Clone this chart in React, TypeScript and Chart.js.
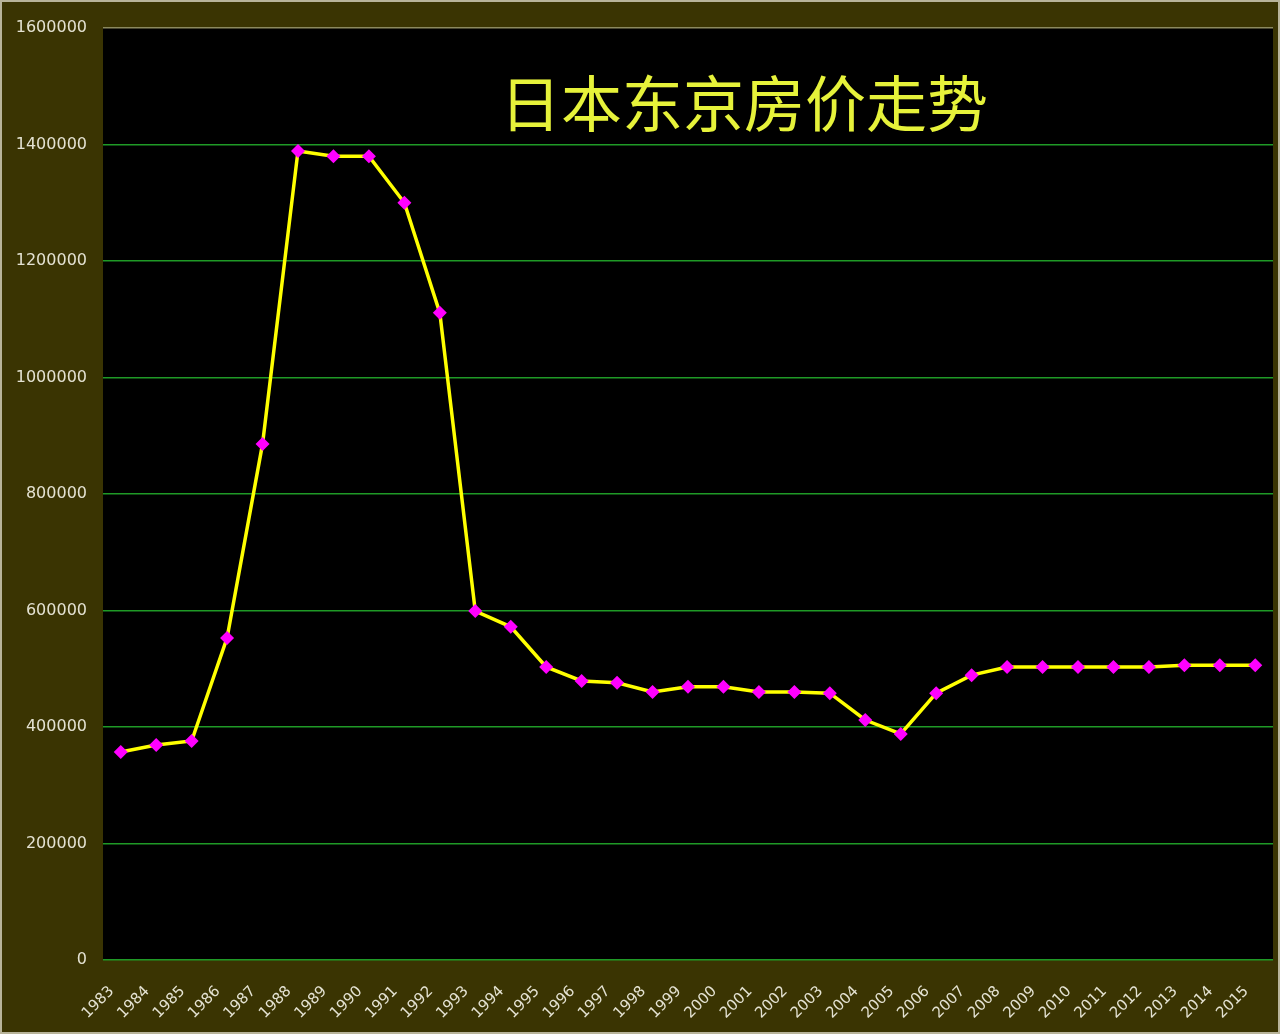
import { useEffect, useRef } from "react"
import { Chart, registerables } from "chart.js"

Chart.register(...registerables)

// ── data ─────────────────────────────────────────────────────
const TITLE = "日本东京房价走势"

const YEARS = [
  "1983", "1984", "1985", "1986", "1987", "1988", "1989", "1990", "1991",
  "1992", "1993", "1994", "1995", "1996", "1997", "1998", "1999", "2000",
  "2001", "2002", "2003", "2004", "2005", "2006", "2007", "2008", "2009",
  "2010", "2011", "2012", "2013", "2014", "2015",
]

const PRICES = [
  357000, 369000, 376000, 553000, 886000, 1389000, 1380000, 1380000, 1300000,
  1111000, 599000, 572000, 503000, 479000, 476000, 460000, 469000, 469000,
  460000, 460000, 458000, 412000, 388000, 458000, 489000, 503000, 503000,
  503000, 503000, 503000, 506000, 506000, 506000,
]

const Y_MAX = 1600000
const Y_STEP = 200000

const BG = "#3a3402"
const LABEL = "#e4e2d2"

// paints the olive frame, the black plot area, the title and the slanted year labels
// (years are drawn here so chart.js doesn't reserve right padding for the last rotated label)
const framePlugin = {
  id: "frame",
  beforeDraw(chart: Chart) {
    const { ctx, chartArea, width, height } = chart
    ctx.save()
    ctx.fillStyle = BG
    ctx.fillRect(0, 0, width, height)
    ctx.fillStyle = "#000"
    ctx.fillRect(chartArea.left, chartArea.top, chartArea.right - chartArea.left, chartArea.bottom - chartArea.top)
    ctx.restore()
  },
  afterDatasetsDraw(chart: Chart) {
    const { ctx } = chart
    ctx.save()
    ctx.fillStyle = "#e6f23a"
    ctx.font = '61px "Noto Sans CJK SC"'
    ctx.textAlign = "center"
    ctx.textBaseline = "middle"
    ctx.fillText(TITLE, 744, 104)
    ctx.restore()
  },
  afterDraw(chart: Chart) {
    const { ctx, width, height, chartArea } = chart
    const xs = chart.scales.x
    ctx.save()
    ctx.fillStyle = LABEL
    ctx.font = '15px "DejaVu Sans"'
    ctx.textAlign = "right"
    ctx.textBaseline = "middle"
    YEARS.forEach((year, i) => {
      const px = xs.getPixelForTick(i)
      ctx.save()
      ctx.translate(px - 9, chartArea.bottom + 29)
      ctx.rotate(-Math.PI / 4)
      ctx.fillText(year, 0, 0)
      ctx.restore()
    })
    ctx.strokeStyle = "#b8b49a"
    ctx.lineWidth = 2
    ctx.strokeRect(1, 1, width - 2, height - 2)
    ctx.restore()
  },
}

export default function App() {
  const canvasRef = useRef<HTMLCanvasElement>(null)

  useEffect(() => {
    document.body.style.margin = "0"
    const canvas = canvasRef.current
    if (!canvas) return

    const chart = new Chart(canvas, {
      type: "line",
      data: {
        labels: YEARS,
        datasets: [
          {
            label: "price",
            data: PRICES,
            borderColor: "#ffff00",
            borderWidth: 3.5,
            pointStyle: "rectRot",
            pointRadius: 7,
            pointBackgroundColor: "#ff00ff",
            pointBorderColor: "#ff00ff",
            pointBorderWidth: 0,
            tension: 0,
          },
        ],
      },
      options: {
        animation: false,
        responsive: false,
        maintainAspectRatio: false,
        layout: { padding: { top: 28, right: 0, left: 0, bottom: 0 } },
        plugins: {
          legend: { display: false },
          tooltip: { enabled: false },
        },
        scales: {
          x: {
            type: "category",
            offset: true,
            grid: { display: false, drawTicks: false },
            border: { display: false },
            ticks: { display: false, autoSkip: false },
            afterFit(scale: any) {
              scale.height = 74
            },
          },
          y: {
            min: 0,
            max: Y_MAX,
            grid: {
              color: (c: any) => (c.tick && c.tick.value === Y_MAX ? "#8c8a5e" : "#1f9a26"),
              lineWidth: 1.5,
              drawTicks: false,
            },
            border: { display: false },
            ticks: {
              stepSize: Y_STEP,
              color: LABEL,
              font: { family: "DejaVu Sans", size: 16 },
              padding: 16,
              callback: (v: any) => String(v),
            },
            afterFit(scale: any) {
              scale.width = 103
            },
          },
        },
      },
      plugins: [framePlugin],
    })

    return () => {
      chart.destroy()
    }
  }, [])

  return (
    <div style={{ width: 1280, height: 1034 }}>
      <canvas ref={canvasRef} width={1280} height={1034} style={{ display: "block" }} />
    </div>
  )
}
